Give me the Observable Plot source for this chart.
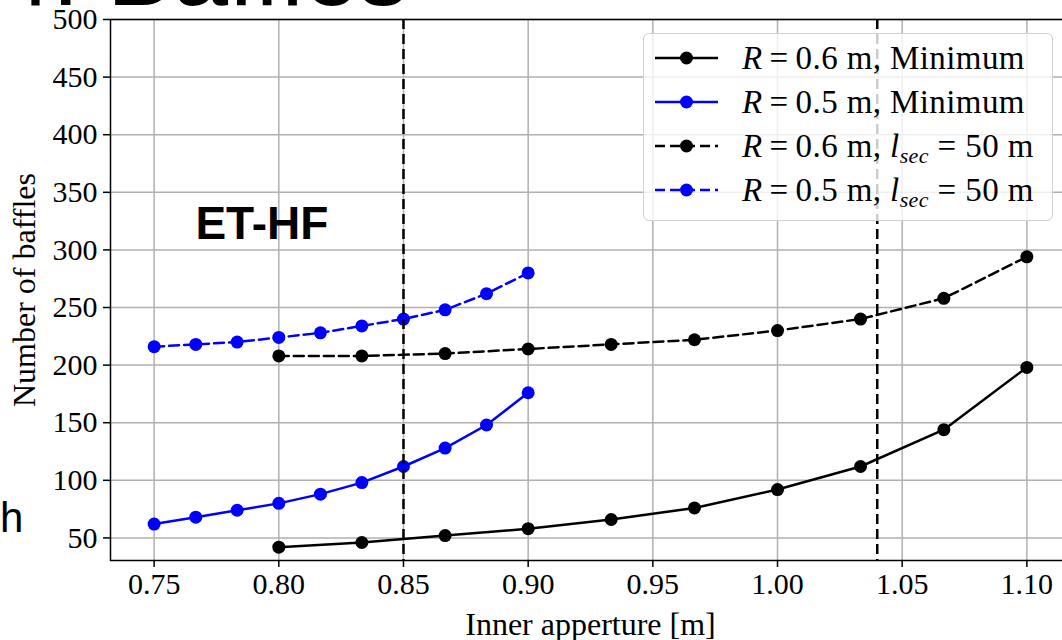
<!DOCTYPE html>
<html>
<head>
<meta charset="utf-8">
<script src="https://cdn.jsdelivr.net/npm/d3@7"></script>
<script src="https://cdn.jsdelivr.net/npm/@observablehq/plot@0.6"></script>
<style>
  html, body { margin: 0; padding: 0; background: #fff; overflow: hidden; }
  #wrap { position: relative; width: 1062px; height: 640px; overflow: hidden; background: #fff; }
  #chart { position: absolute; left: 0; top: 0; width: 1080px; }
  #chart svg { max-width: none !important; width: 1080px; height: 640px; }
  #deco { position: absolute; left: 0; top: 0; pointer-events: none; }
  #legend {
    position: absolute; left: 643px; top: 33px; width: 408px; height: 186px;
    background: rgba(255,255,255,0.8); border: 1.5px solid #d0d0d0; border-radius: 6px;
    font-family: "Liberation Serif", serif; font-size: 33px; color: #000; letter-spacing: 0.4px;
  }
  .row { position: absolute; left: 0; height: 44px; width: 100%; }
  .row svg { position: absolute; left: 11px; top: 0; }
  .row span { position: absolute; left: 98px; top: 3px; white-space: nowrap; line-height: 36px; }
  .row sub { font-size: 22px; vertical-align: -6px; line-height: 0; }
</style>
</head>
<body>
<div id="wrap">
  <div id="chart"></div>
  <svg id="deco" width="1062" height="640">
    <text x="-3" y="5" font-family="Liberation Sans, Arial, sans-serif" font-size="99" fill="#000">4. Baffles</text>
    <text x="0" y="532" font-family="Liberation Sans, Arial, sans-serif" font-size="42" fill="#000">h</text>
  </svg>
  <div id="legend"></div>
</div>
<script>
// ---- data ----
const x06 = [0.8, 0.8333, 0.8667, 0.9, 0.9333, 0.9667, 1.0, 1.0333, 1.0667, 1.1];
const x05 = [0.75, 0.7667, 0.7833, 0.8, 0.8167, 0.8333, 0.85, 0.8667, 0.8833, 0.9];
const min06 = [42, 46, 52, 58, 66, 76, 92, 112, 144, 198];
const min05 = [62, 68, 74, 80, 88, 98, 112, 128, 148, 176];
const sec06 = [208, 208, 210, 214, 218, 222, 230, 240, 258, 294];
const sec05 = [216, 218, 220, 224, 228, 234, 240, 248, 262, 280];
const seriesLabels = [
  "<i>R</i>\u2009=\u20090.6 m, Minimum",
  "<i>R</i>\u2009=\u20090.5 m, Minimum",
  "<i>R</i>\u2009=\u20090.6 m, <i>l</i><sub><i>sec</i></sub> = 50 m",
  "<i>R</i>\u2009=\u20090.5 m, <i>l</i><sub><i>sec</i></sub> = 50 m"
];
const vLines = [0.85, 1.04];
const xTicks = [0.75, 0.80, 0.85, 0.90, 0.95, 1.00, 1.05, 1.10];
const yTicks = [50, 100, 150, 200, 250, 300, 350, 400, 450, 500];
const xLabel = "Inner apperture [m]";
const yLabel = "Number of baffles";
const annotations = [{label: "ET-HF", x: 0.7932, y: 322}];

// ---- styles ----
const seriesStyle = [
  {color: "#000000", dash: null},
  {color: "#0000ff", dash: null},
  {color: "#000000", dash: "10,5"},
  {color: "#0000ff", dash: "10,5"}
];
const seriesData = [
  x06.map((x, i) => ({x, y: min06[i]})),
  x05.map((x, i) => ({x, y: min05[i]})),
  x06.map((x, i) => ({x, y: sec06[i]})),
  x05.map((x, i) => ({x, y: sec05[i]}))
];

const lineMarks = [];
seriesData.forEach((d, i) => {
  const s = seriesStyle[i];
  lineMarks.push(Plot.line(d, {x: "x", y: "y", stroke: s.color, strokeWidth: 2.5,
    strokeDasharray: s.dash || undefined}));
  lineMarks.push(Plot.dot(d, {x: "x", y: "y", fill: s.color, stroke: "none", r: 6.5}));
});

const chart = Plot.plot({
  width: 1080, height: 640,
  marginLeft: 110, marginRight: 10, marginTop: 19, marginBottom: 80,
  x: {domain: [0.7325, 1.1175]},
  y: {domain: [30.4, 500]},
  style: {fontFamily: "Liberation Serif, serif", fontSize: "30px", color: "#000", background: "transparent", maxWidth: "none"},
  marks: [
    Plot.gridX(xTicks, {stroke: "#b0b0b0", strokeOpacity: 1, strokeWidth: 1.5}),
    Plot.gridY(yTicks, {stroke: "#b0b0b0", strokeOpacity: 1, strokeWidth: 1.5}),
    ...lineMarks,
    Plot.ruleX(vLines, {stroke: "#000", strokeWidth: 2.5, strokeDasharray: "10,5"}),
    Plot.frame({stroke: "#000", strokeWidth: 1.5}),
    Plot.axisX(xTicks, {tickFormat: d3.format(".2f"), tickSize: 7, tickPadding: 5, strokeWidth: 1.5, label: null}),
    Plot.axisY(yTicks, {tickFormat: d => String(d), tickSize: 7, tickPadding: 6, strokeWidth: 1.5, label: null}),
    Plot.text([xLabel], {frameAnchor: "bottom", lineAnchor: "bottom", textAnchor: "middle", dy: 74, fontSize: 32, text: d => d}),
    Plot.text([yLabel], {frameAnchor: "left", lineAnchor: "top", textAnchor: "middle", rotate: -90, dx: -98, fontSize: 32, text: d => d}),
    Plot.text(annotations, {x: "x", y: "y", text: "label", fontFamily: "Liberation Sans, Arial, sans-serif",
      fontWeight: "bold", fontSize: 46, fill: "#000"})
  ]
});
document.getElementById("chart").appendChild(chart);

// ---- legend ----
const legend = document.getElementById("legend");
seriesLabels.forEach((lab, i) => {
  const s = seriesStyle[i];
  const row = document.createElement("div");
  row.className = "row";
  row.style.top = (3 + i * 44) + "px";
  row.innerHTML =
    `<svg width="64" height="44"><line x1="0" x2="63" y1="21" y2="21" stroke="${s.color}" stroke-width="2.5"` +
    (s.dash ? ` stroke-dasharray="${s.dash}"` : "") + `/><circle cx="31.5" cy="21" r="6.5" fill="${s.color}"/></svg>` +
    `<span>${lab}</span>`;
  legend.appendChild(row);
});
</script>
</body>
</html>
